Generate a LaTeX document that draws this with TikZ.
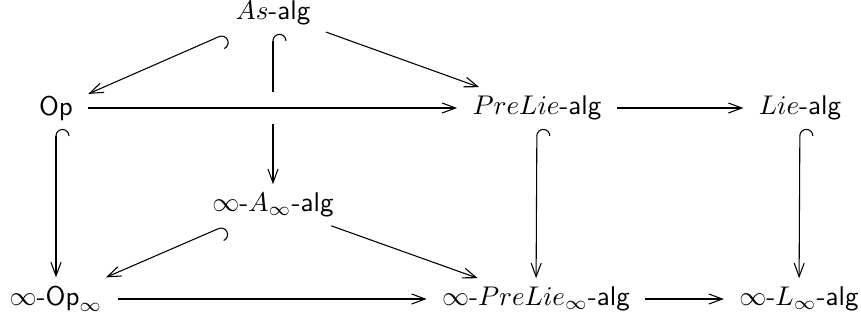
\documentclass[tikz,border=0pt]{standalone}
\usetikzlibrary{arrows.meta}
\begin{document}
\begin{tikzpicture}[x=0.37pt,y=-0.37pt,
  obj/.style={inner xsep=5.5pt,inner ysep=3pt,anchor=center},
  ar/.style={line width=0.4pt,-{Straight Barb[length=5pt,width=3.7pt]}},
  hk/.style={line width=0.4pt,{Hooks[right,length=2.6pt,width=10pt]}-{Straight Barb[length=5pt,width=3.7pt]}},
  hkline/.style={line width=0.4pt,{Hooks[right,length=2.6pt,width=10pt]}-}]
\useasboundingbox (0,0) rectangle (861,320);
\node[obj] (as) at (273,13) {$As$-\textsf{alg}};
\node[obj] (op) at (56,108) {\textsf{Op}};
\node[obj] (pre) at (537,108) {$PreLie$-\textsf{alg}};
\node[obj] (lie) at (800,108) {$Lie$-\textsf{alg}};
\node[obj] (ainf) at (273,205) {$\infty$-$A_\infty$-\textsf{alg}};
\node[obj] (opinf) at (56,299) {$\infty$-$\textsf{Op}_\infty$};
\node[obj] (preinf) at (536,299) {$\infty$-$PreLie_\infty$-\textsf{alg}};
\node[obj] (linf) at (799,299) {$\infty$-$L_\infty$-\textsf{alg}};
\coordinate (gt) at (273,92);
\coordinate (gb) at (273,124);
\draw[hk] (as) -- (op);
\draw[ar] (as) -- (pre);
\draw[hkline] (as) -- (gt);
\draw[ar] (gb) -- (ainf);
\draw[ar] (op) -- (pre);
\draw[ar] (pre) -- (lie);
\draw[hk] (op) -- (opinf);
\draw[hk] (pre) -- (preinf);
\draw[hk] (lie) -- (linf);
\draw[hk] (ainf) -- (opinf);
\draw[ar] (ainf) -- (preinf);
\draw[ar] (opinf) -- (preinf);
\draw[ar] (preinf) -- (linf);
\end{tikzpicture}
\end{document}
